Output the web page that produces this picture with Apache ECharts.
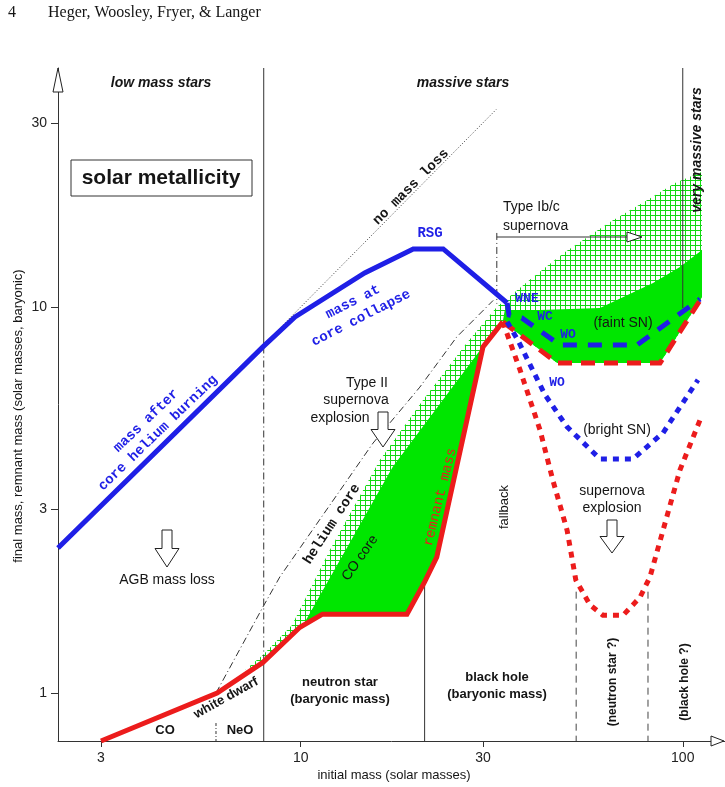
<!DOCTYPE html>
<html>
<head>
<meta charset="utf-8">
<script src="https://cdn.jsdelivr.net/npm/echarts@6/dist/echarts.min.js"></script>
<style>
  html, body { margin: 0; padding: 0; background: #fff; }
  #main { width: 725px; height: 787px; }
</style>
</head>
<body>
<div id="main"></div>
<script>
// axis ticks (log scales)
const xTicks = [3, 10, 30, 100];
const yTicks = [1, 3, 10, 30];

// curves: [initial mass, final / remnant mass]
const finalMass = [[2.315, 2.375], [7.96, 7.88], [9.66, 9.42], [14.7, 12.25], [19.7, 14.14], [23.6, 14.14], [34.7, 10.24]];
const noMassLoss = [[8, 8], [32.5, 32.5]];
const heliumCore = [[6.0, 1.0], [7.96, 1.67], [8.82, 2.0], [15.46, 4.44], [20.5, 6.2], [25.6, 8.36], [31.9, 10.4]];
const remnantMass = [[3.0, 0.751], [6.04, 1.0], [7.96, 1.2], [9.95, 1.48], [11.4, 1.6], [18.97, 1.6], [21.1, 1.94], [22.7, 2.25], [30.0, 7.88], [33.8, 9.15]];
const faintRemnant = [[33.8, 9.15], [46.9, 7.16], [87.2, 7.16], [112.3, 10.6]];
const faintFinal = [[34.7, 10.24], [35.1, 9.53], [37.9, 9.37], [47.7, 7.97], [75.9, 7.97], [111, 10.49]];
const brightFinal = [[34.7, 9.15], [37.0, 8.21], [43.6, 5.92], [49.8, 4.89], [60.7, 4.04], [74.1, 4.04], [88.8, 4.72], [109.6, 6.47]];
const brightRemnant = [[33.8, 9.15], [37.5, 6.87], [42.3, 4.8], [45.7, 3.56], [49.8, 2.64], [52.5, 1.96], [57.2, 1.69], [61.8, 1.59], [69.8, 1.59], [77.3, 1.77], [82.1, 2.0], [88.8, 2.64], [98.3, 3.78], [111, 5.1]];
const coCore = [[10.26, 1.53], [17.4, 3.85], [29.5, 7.74]];
const heliumEnvelope = [[7.15, 1.147], [7.96, 1.254], [9.49, 1.5], [11.93, 2.35], [16.1, 4.01], [20.9, 5.74], [27.2, 8.07], [32.6, 10.0], [40.6, 11.96], [49.2, 13.88], [64.5, 16.6], [80.6, 18.9], [95.4, 20.95], [112.3, 22.4]];
const faintTop = [[34.2, 9.82], [42.3, 9.82], [60.7, 9.94], [83.6, 11.54], [98.3, 12.7], [112.3, 14.05]];

// region dividers
const X_MIN = 2.315, X_MAX = 129, Y_MIN = 0.751, Y_MAX = 41.6;
const dividerLowTop = [[8, Y_MAX], [8, 7.9]];
const dividerLowMid = [[8, 7.9], [8, 1.2]];
const dividerLowBase = [[8, 1.2], [8, Y_MIN]];
const dividerCoNeo = [[6.0, 0.836], [6.0, Y_MIN]];
const dividerNsBh = [[21.1, 1.94], [21.1, Y_MIN]];
const dividerIbc = [[32.6, 15.55], [32.6, 10.2]];
const arrowIbc = [[32.6, 15.18], [71.5, 15.18]];
const dividerNsQ = [[52.6, 1.83], [52.6, Y_MIN]];
const dividerBhQ = [[81.1, 1.83], [81.1, Y_MIN]];
const dividerVms = [[100, Y_MAX], [100, 9.94]];

const BLUE = '#1f1fe6';
const RED = '#ec1c1c';
const GREEN = '#00e600';
const sans = '"Liberation Sans", Arial, sans-serif';
const mono = '"Liberation Mono", "Courier New", monospace';
const serif = '"Liberation Serif", "Times New Roman", serif';

// hatch pattern
const hatch = document.createElement('canvas');
hatch.width = 5; hatch.height = 5;
const hctx = hatch.getContext('2d');
hctx.fillStyle = '#fff';
hctx.fillRect(0, 0, 5, 5);
hctx.fillStyle = '#12d812';
hctx.fillRect(0, 0, 5, 1);
hctx.fillRect(0, 0, 1, 5);

const hatchPoly = heliumEnvelope.concat([[112.3, 10.6]], faintRemnant.slice(0, -1).reverse(),
  remnantMass.filter(p => p[0] >= 7.9 && p[0] < 33).reverse());
const faintPoly = faintTop.concat(faintRemnant.slice().reverse());
const coPoly = coCore.concat(remnantMass.filter(p => p[0] >= 11 && p[0] <= 30).reverse());

function line(data, color, width, type, z) {
  return {
    type: 'line', data, symbol: 'none', silent: true, animation: false, z,
    lineStyle: { color, width, type, cap: 'butt', join: 'miter' }
  };
}
function area(points, fill, z) {
  return {
    type: 'custom', silent: true, animation: false, z, data: [[10, 10]],
    renderItem: (params, api) => ({
      type: 'polygon',
      shape: { points: points.map(p => api.coord(p)) },
      style: { fill, stroke: null }
    })
  };
}
function txt(text, x, y, font, opt) {
  opt = opt || {};
  return {
    type: 'text', x, y, z: 100, rotation: (opt.rot || 0) * Math.PI / 180,
    style: { text, font, fill: opt.color || '#151515', align: opt.align || 'center', verticalAlign: 'middle', lineHeight: opt.lh }
  };
}
function downArrow(cx, top, bottom) {
  const sh = (bottom - top) * 0.5;
  return {
    type: 'polygon', z: 100,
    shape: { points: [[cx - 5, top], [cx + 5, top], [cx + 5, top + sh], [cx + 12, top + sh], [cx, bottom], [cx - 12, top + sh], [cx - 5, top + sh]] },
    style: { fill: '#fff', stroke: '#222', lineWidth: 1 }
  };
}
function headPoly(points) {
  return { type: 'polygon', z: 100, shape: { points }, style: { fill: '#fff', stroke: '#222', lineWidth: 1 } };
}

const chart = echarts.init(document.getElementById('main'), null, { renderer: 'canvas' });
chart.setOption({
  animation: false,
  backgroundColor: '#fff',
  grid: { left: 58, right: 0, top: 68, bottom: 46 },
  xAxis: {
    type: 'log', min: X_MIN, max: X_MAX,
    axisLine: { lineStyle: { color: '#333', width: 1 } },
    axisTick: { show: true, length: 6, lineStyle: { color: '#333' }, customValues: xTicks },
    axisLabel: { customValues: xTicks, color: '#222', fontSize: 14, fontFamily: sans, margin: 10 },
    splitLine: { show: false }, minorTick: { show: false }
  },
  yAxis: {
    type: 'log', min: Y_MIN, max: Y_MAX,
    axisLine: { lineStyle: { color: '#333', width: 1 } },
    axisTick: { show: true, length: 7, lineStyle: { color: '#333' }, customValues: yTicks },
    axisLabel: { customValues: yTicks, color: '#222', fontSize: 14, fontFamily: sans, margin: 11 },
    splitLine: { show: false }, minorTick: { show: false }
  },
  series: [
    area(hatchPoly, { image: hatch, repeat: 'repeat' }, 1),
    area(coPoly, GREEN, 2),
    area(faintPoly, GREEN, 2),
    line(dividerLowTop, '#333', 1, 'solid', 3),
    line(dividerLowMid, '#333', 1, [7, 3, 1, 3], 3),
    line(dividerLowBase, '#333', 1, 'solid', 3),
    line(dividerCoNeo, '#333', 1, [3, 2, 1, 2], 3),
    line(dividerNsBh, '#333', 1, 'solid', 3),
    line(dividerIbc, '#333', 1, [7, 3, 1, 3], 3),
    line(arrowIbc, '#333', 1, 'solid', 3),
    line(dividerNsQ, '#444', 1, [7, 5], 3),
    line(dividerBhQ, '#444', 1, [7, 5], 3),
    line(dividerVms, '#333', 1, 'solid', 3),
    line(noMassLoss, '#333', 1, [1, 2], 4),
    line(heliumCore, '#333', 1, [7, 3, 1, 3], 4),
    line(finalMass, BLUE, 5, 'solid', 6),
    line(remnantMass, RED, 5, 'solid', 6),
    line(faintRemnant, RED, 5, [14, 9], 5),
    line(faintFinal, BLUE, 5, [14, 11], 6),
    line(brightRemnant, RED, 5, [6, 6], 5),
    line(brightFinal, BLUE, 5, [6, 6], 5)
  ],
  graphic: [
    txt('4', 12, 13, '16px ' + serif),
    txt('Heger, Woosley, Fryer, & Langer', 48, 13, '16px ' + serif, { align: 'left' }),
    headPoly([[53, 92], [63, 92], [58, 68]]),
    headPoly([[711, 736], [711, 746], [724, 741]]),
    headPoly([[627, 232], [627, 242], [642, 237]]),
    { type: 'rect', z: 99, shape: { x: 71, y: 160, width: 181, height: 36 }, style: { fill: '#fff', stroke: '#333', lineWidth: 1 } },
    txt('solar metallicity', 161, 178, 'bold 21px ' + sans),
    txt('low mass stars', 161, 83, 'italic bold 14px ' + sans),
    txt('massive stars', 463, 83, 'italic bold 14px ' + sans),
    txt('very massive stars', 697, 150, 'italic bold 14px ' + sans, { rot: 90 }),
    txt('no mass loss', 411, 187, 'bold 14px ' + mono, { rot: 45 }),
    txt('RSG', 430, 233, 'bold 14px ' + mono, { color: BLUE }),
    txt('mass at\ncore collapse', 357, 310, 'bold 14px ' + mono, { color: BLUE, rot: 27, lh: 18 }),
    txt('mass after\ncore helium burning', 152, 427, 'bold 14px ' + mono, { color: BLUE, rot: 44, lh: 17 }),
    downArrow(167, 530, 567),
    txt('AGB mass loss', 167, 580, '14px ' + sans),
    txt('CO', 165, 730, 'bold 13px ' + sans),
    txt('NeO', 240, 730, 'bold 13px ' + sans),
    txt('white dwarf', 226, 698, 'bold 13px ' + sans, { rot: 29 }),
    txt('neutron star\n(baryonic mass)', 340, 691, 'bold 13px ' + sans, { lh: 17 }),
    txt('black hole\n(baryonic mass)', 497, 686, 'bold 13px ' + sans, { lh: 17 }),
    txt('(neutron star ?)', 613, 682, 'bold 12px ' + sans, { rot: 90 }),
    txt('(black hole ?)', 685, 682, 'bold 12px ' + sans, { rot: 90 }),
    txt('fallback', 504, 507, '13px ' + sans, { rot: 90 }),
    txt('supernova\nexplosion', 612, 500, '14px ' + sans, { lh: 17 }),
    downArrow(612, 520, 553),
    txt('(bright SN)', 617, 430, '14px ' + sans),
    txt('(faint SN)', 623, 323, '14px ' + sans),
    txt('Type II', 367, 383, '14px ' + sans),
    txt('supernova', 356, 400, '14px ' + sans),
    txt('explosion', 340, 418, '14px ' + sans),
    downArrow(383, 412, 447),
    txt('helium core', 332, 524, 'bold 14px ' + mono, { rot: 57 }),
    txt('CO core', 360, 558, '14px ' + sans, { rot: 55 }),
    txt('remnant mass', 440, 497, '14px ' + mono, { color: RED, rot: 76 }),
    txt('Type Ib/c\nsupernova', 503, 217, '14px ' + sans, { align: 'left', lh: 19 }),
    txt('WNE', 527, 299, 'bold 13px ' + mono, { color: BLUE }),
    txt('WC', 545, 317, 'bold 13px ' + mono, { color: BLUE }),
    txt('WO', 568, 335, 'bold 13px ' + mono, { color: BLUE }),
    txt('WO', 557, 383, 'bold 13px ' + mono, { color: BLUE }),
    txt('initial mass (solar masses)', 394, 775, '13px ' + sans),
    txt('final mass, remnant mass (solar masses, baryonic)', 18, 416, '13px ' + sans, { rot: 90 })
  ]
});
</script>
</body>
</html>
